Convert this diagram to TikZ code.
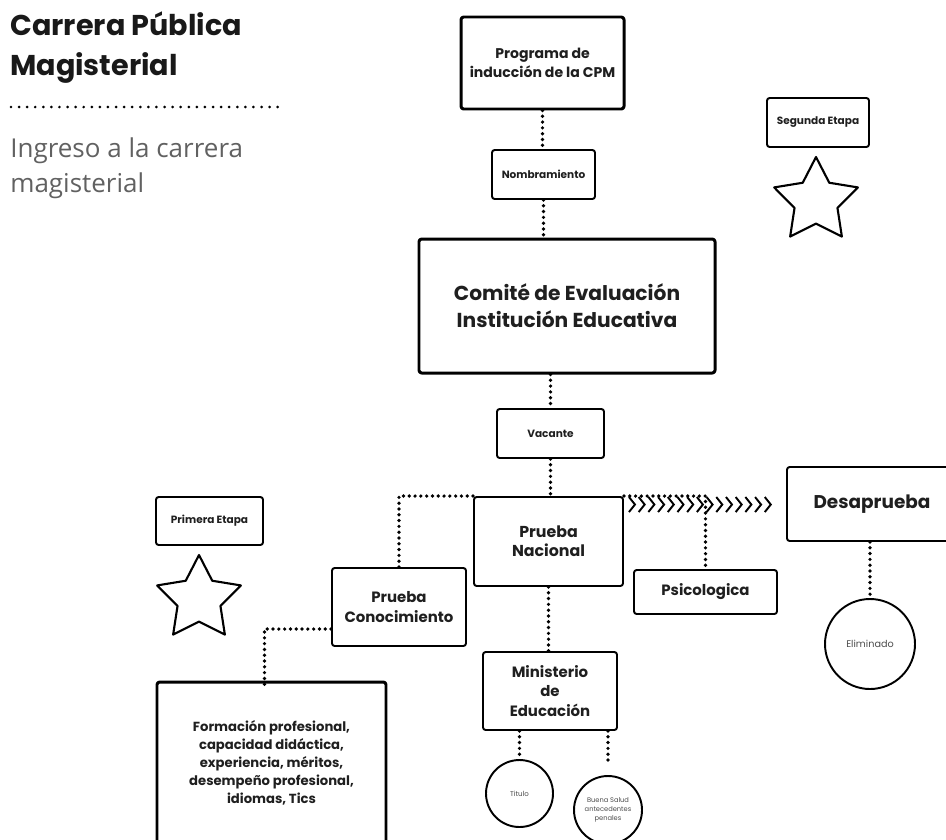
\documentclass[tikz,border=0pt]{standalone}
\usepackage{fontspec}
\setmainfont{Poppins}
\newfontfamily\subfont{Open Sans}
\usetikzlibrary{shapes.geometric,calc}
\newcommand\fs[2]{\fontsize{#1}{#2}\selectfont}
\tikzset{
  sz/.style 2 args={minimum width=#1*0.02cm, minimum height=#2*0.02cm},
  box/.style={draw, rounded corners=1.5pt, line width=1.1pt, align=center, inner sep=0pt, text=black!88},
  bigbox/.style={box, line width=1.7pt},
  ring/.style={draw, circle, line width=1.1pt, inner sep=0pt, align=center, text=black!70},
  conn/.style={line width=2.1pt, line cap=round, dash pattern=on 0pt off 3.3pt},
  rule/.style={line width=1.7pt, line cap=round, dash pattern=on 0pt off 4.6pt},
  chev/.style={line width=1.1pt, line cap=butt, line join=miter},
  etoile/.style={draw, star, star points=5, star point ratio=1.95, line width=1.2pt, inner sep=0pt, minimum size=88*0.02cm},
  ttl/.style={anchor=base west, inner sep=0pt, font=\fs{16.3}{19}\bfseries, text=black!90},
  sub/.style={anchor=base west, inner sep=0pt, font=\subfont\fs{14.8}{17}, text=black!62},
}
\begin{document}
\begin{tikzpicture}[x=0.02cm, y=-0.02cm, line join=round, line cap=round]
\useasboundingbox (0,0) rectangle (946,839);
\clip (0,0) rectangle (946,839);
% title
\node[ttl] (t1) at (10,35) {Carrera Pública};
\node[ttl] (t2) at (10,75) {Magisterial};
\path (11,107) coordinate (r1) (280,107) coordinate (r2);
\draw[rule] (r1) -- (r2);
\node[sub] (s1) at (10,157) {Ingreso a la carrera};
\node[sub] (s2) at (10,192) {magisterial};
% boxes
\node[bigbox, sz={163}{92}, font=\fs{8}{10.8}\bfseries] (prog) at (542.5,63) {Programa de\\inducción de la CPM};
\node[box, sz={103}{49}, font=\fs{6}{8}\bfseries] (nomb) at (543.5,174.5) {Nombramiento};
\node[bigbox, sz={296}{134}, font=\fs{11.5}{15.3}\bfseries] (comite) at (567,306) {Comité de Evaluación\\Institución Educativa};
\node[box, sz={107}{49}, font=\fs{6}{8}\bfseries] (vacante) at (550.5,433.5) {Vacante};
\node[box, sz={149}{89}, font=\fs{9}{10.8}\bfseries] (nacional) at (548.5,541.5) {Prueba\\Nacional};
\node[box, sz={170}{74}, font=\fs{10.5}{12}\bfseries] (desap) at (872,504) {Desaprueba};
\node[box, sz={143}{44}, font=\fs{8.5}{10}\bfseries] (psico) at (705.5,592) {Psicologica};
\node[box, sz={134}{78}, font=\fs{8.5}{11.3}\bfseries] (conoc) at (399,607) {Prueba\\Conocimiento};
\node[box, sz={134}{78}, font=\fs{8.5}{11.3}\bfseries] (minis) at (550,691) {Ministerio\\de\\Educación};
\node[bigbox, sz={229}{162}, font=\fs{7.5}{10.2}\bfseries] (formacion) at (271.5,763) {Formación profesional,\\capacidad didáctica,\\experiencia, méritos,\\desempeño profesional,\\idiomas, Tics};
\node[box, sz={107}{48}, font=\fs{6}{8}\bfseries] (primera) at (209.5,521) {Primera Etapa};
\node[box, sz={102}{49}, font=\fs{6}{8}\bfseries] (segunda) at (818,122.5) {Segunda Etapa};
% stars and circles
\node[etoile] (star1) at (199,599) {};
\node[etoile] (star2) at (816,201) {};
\node[ring, minimum size=67*0.02cm, font=\fs{4}{5}] (titulo) at (519.5,793.5) {Titulo};
\node[ring, minimum size=68*0.02cm, font=\fs{3.8}{5.1}] (salud) at (608,810) {Buena Salud\\antecedentes\\penales};
\node[ring, minimum size=90*0.02cm, font=\fs{5.5}{7}] (elim) at (870,644) {Eliminado};
% dotted connectors
\draw[conn] (prog.south) -- (prog.south |- nomb.north);
\draw[conn] (nomb.south) -- (nomb.south |- comite.north);
\draw[conn] (vacante.north |- comite.south) -- (vacante.north);
\draw[conn] (vacante.south) -- (vacante.south |- nacional.north);
\draw[conn] (nacional.south) -- (nacional.south |- minis.north);
\draw[conn] (nacional.north west) -| (conoc.north);
\draw[conn] (nacional.north east) -| (psico.north);
\path (conoc.west) ++(0,22) coordinate (cw);
\path (formacion.north) ++(-7,6) coordinate (fk);
\draw[conn] (cw) -| (fk);
\draw[conn] (titulo.north |- minis.south) -- (titulo.north);
\path (salud.north) ++(0,-14) coordinate (sk);
\draw[conn] (salud.north |- minis.south) -- (sk);
\draw[conn] (elim.north |- desap.south) -- (elim.north);
% chevrons
\path (nacional.north east) ++(5,1) coordinate (chevA);
\foreach \i in {0,...,14}
  \draw[chev] ($(chevA)+(\i*9.7,0)$) -- ++(6,7.5) -- ++(-6,7.5);
\end{tikzpicture}
\end{document}
